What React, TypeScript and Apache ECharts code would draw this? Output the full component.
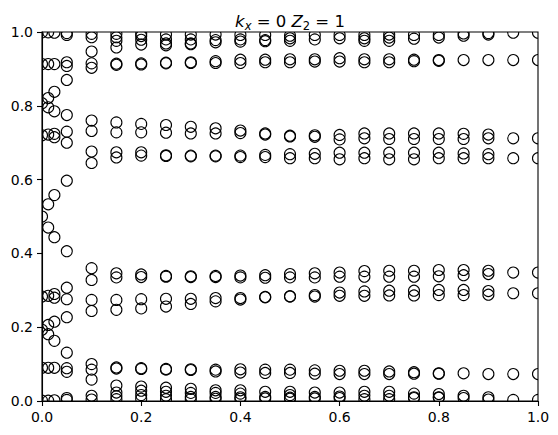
import React, { useEffect, useRef } from "react";
import * as echarts from "echarts";

// x positions of the columns of eigenvalues
const xValues = [
  0, 0.0125, 0.025, 0.05, 0.1, 0.15, 0.2, 0.25, 0.3, 0.35, 0.4, 0.45, 0.5,
  0.55, 0.6, 0.65, 0.7, 0.75, 0.8, 0.85, 0.9, 0.95, 1.0,
];

// y values per column
const col00 = [0.001, 0.09, 0.193, 0.283, 0.5, 0.72, 0.807, 0.913, 0.999];
const col01 = [0.001, 0.09, 0.181, 0.206, 0.285, 0.47, 0.533, 0.722, 0.796, 0.821, 0.913, 0.999];
const col02 = [0.002, 0.09, 0.163, 0.215, 0.28, 0.29, 0.444, 0.558, 0.715, 0.724, 0.785, 0.838, 0.913, 0.998];
const col03 = [0.003, 0.008, 0.079, 0.089, 0.131, 0.227, 0.276, 0.307, 0.406, 0.597, 0.7, 0.73, 0.775, 0.87, 0.908, 0.918, 0.992, 0.997];
const col04 = [0.004, 0.014, 0.058, 0.085, 0.1, 0.244, 0.274, 0.328, 0.36, 0.645, 0.676, 0.732, 0.76, 0.903, 0.915, 0.947, 0.986, 0.995];
const col05 = [0.005, 0.013, 0.023, 0.042, 0.088, 0.091, 0.247, 0.274, 0.335, 0.346, 0.66, 0.674, 0.728, 0.755, 0.911, 0.914, 0.958, 0.976, 0.986, 0.995];
const col06 = [0.006, 0.016, 0.028, 0.039, 0.087, 0.089, 0.251, 0.276, 0.336, 0.343, 0.665, 0.674, 0.728, 0.751, 0.912, 0.915, 0.966, 0.979, 0.989, 0.995];
const col07 = [0.005, 0.014, 0.025, 0.036, 0.085, 0.087, 0.256, 0.277, 0.337, 0.339, 0.664, 0.666, 0.727, 0.748, 0.915, 0.917, 0.964, 0.969, 0.98, 0.993];
const col08 = [0.005, 0.011, 0.022, 0.033, 0.084, 0.086, 0.263, 0.277, 0.336, 0.338, 0.663, 0.665, 0.725, 0.743, 0.916, 0.918, 0.967, 0.969, 0.98, 0.993];
const col09 = [0.006, 0.011, 0.022, 0.029, 0.08, 0.085, 0.27, 0.279, 0.336, 0.339, 0.663, 0.665, 0.725, 0.739, 0.916, 0.921, 0.972, 0.978, 0.993];
const col10 = [0.006, 0.01, 0.02, 0.029, 0.077, 0.086, 0.275, 0.279, 0.335, 0.34, 0.661, 0.665, 0.726, 0.733, 0.916, 0.925, 0.974, 0.98, 0.992];
const col11 = [0.007, 0.011, 0.025, 0.076, 0.085, 0.281, 0.282, 0.334, 0.341, 0.661, 0.667, 0.722, 0.725, 0.918, 0.925, 0.975, 0.978, 0.992];
const col12 = [0.006, 0.009, 0.016, 0.025, 0.076, 0.085, 0.283, 0.284, 0.335, 0.344, 0.658, 0.669, 0.717, 0.719, 0.918, 0.926, 0.976, 0.983, 0.99];
const col13 = [0.007, 0.011, 0.023, 0.074, 0.083, 0.283, 0.287, 0.335, 0.346, 0.658, 0.67, 0.716, 0.72, 0.92, 0.926, 0.98, 0.992];
const col14 = [0.008, 0.012, 0.023, 0.073, 0.082, 0.285, 0.294, 0.337, 0.348, 0.655, 0.673, 0.709, 0.721, 0.92, 0.929, 0.983, 0.992];
const col15 = [0.005, 0.014, 0.025, 0.073, 0.082, 0.285, 0.297, 0.337, 0.352, 0.658, 0.673, 0.712, 0.725, 0.918, 0.926, 0.976, 0.983, 0.992];
const col16 = [0.005, 0.014, 0.025, 0.073, 0.08, 0.286, 0.299, 0.337, 0.353, 0.655, 0.673, 0.71, 0.725, 0.918, 0.926, 0.976, 0.985, 0.993];
const col17 = [0.008, 0.01, 0.02, 0.074, 0.078, 0.286, 0.299, 0.337, 0.353, 0.655, 0.673, 0.71, 0.725, 0.921, 0.925, 0.982, 0.992];
const col18 = [0.009, 0.01, 0.019, 0.074, 0.075, 0.287, 0.301, 0.338, 0.355, 0.658, 0.673, 0.71, 0.725, 0.922, 0.924, 0.985, 0.992];
const col19 = [0.008, 0.014, 0.075, 0.287, 0.301, 0.341, 0.355, 0.658, 0.671, 0.71, 0.724, 0.924, 0.99, 0.996];
const col20 = [0.004, 0.01, 0.073, 0.288, 0.298, 0.344, 0.353, 0.658, 0.669, 0.712, 0.722, 0.924, 0.993, 0.997];
const col21 = [0.003, 0.073, 0.292, 0.348, 0.658, 0.712, 0.924, 0.998];
const col22 = [0.003, 0.073, 0.292, 0.348, 0.658, 0.712, 0.924, 0.998];

const columns = [
  col00, col01, col02, col03, col04, col05, col06, col07, col08, col09, col10,
  col11, col12, col13, col14, col15, col16, col17, col18, col19, col20, col21, col22,
];

const FONT = "DejaVu Sans";

export default function App() {
  const ref = useRef<HTMLDivElement>(null);

  useEffect(() => {
    if (!ref.current) return;
    const chart = echarts.init(ref.current, undefined, { renderer: "svg" });
    const data: number[][] = [];
    columns.forEach((ys, i) => {
      ys.forEach((y) => data.push([xValues[i], y]));
    });

    const axisCommon = {
      type: "value" as const,
      min: 0,
      max: 1,
      interval: 0.2,
      axisLine: { show: true, lineStyle: { color: "#000", width: 1.1 } },
      axisTick: { show: true, length: 5, lineStyle: { color: "#000", width: 1.1 } },
      splitLine: { show: false },
      axisLabel: {
        color: "#000",
        fontSize: 14,
        fontFamily: FONT,
        margin: 9,
        formatter: (v: number) => v.toFixed(1),
      },
    };

    chart.setOption({
      animation: false,
      backgroundColor: "#fff",
      grid: {
        left: 42,
        right: 20,
        top: 32,
        bottom: 34,
        show: true,
        borderColor: "#000",
        borderWidth: 1.1,
        backgroundColor: "transparent",
      },
      xAxis: { ...axisCommon },
      yAxis: { ...axisCommon },
      graphic: [
        {
          type: "text",
          x: 290,
          y: 10,
          style: {
            text: "{i|k}{s|x}{n| = 0 }{i|Z}{u|2}{n| = 1}",
            align: "center",
            verticalAlign: "top",
            rich: {
              i: { fontFamily: FONT, fontStyle: "italic", fontSize: 16.5, lineHeight: 22, fill: "#000" },
              n: { fontFamily: FONT, fontSize: 16.5, lineHeight: 22, fill: "#000" },
              s: { fontFamily: FONT, fontStyle: "italic", fontSize: 11.5, lineHeight: 11, verticalAlign: "bottom", fill: "#000" },
              u: { fontFamily: FONT, fontSize: 11.5, lineHeight: 11, verticalAlign: "bottom", fill: "#000" },
            },
          },
        },
      ],
      series: [
        {
          type: "custom",
          data,
          clip: true,
          silent: true,
          encode: { x: 0, y: 1 },
          renderItem: (params: any, api: any) => {
            const p = api.coord([api.value(0), api.value(1)]);
            return {
              type: "circle",
              shape: { cx: p[0], cy: p[1], r: 5.5 },
              style: { fill: "none", stroke: "#000", lineWidth: 1.1 },
            };
          },
        },
      ],
    });

    return () => chart.dispose();
  }, []);

  return (
    <div
      ref={ref}
      style={{ position: "fixed", left: 0, top: 0, width: 558, height: 435 }}
    />
  );
}
